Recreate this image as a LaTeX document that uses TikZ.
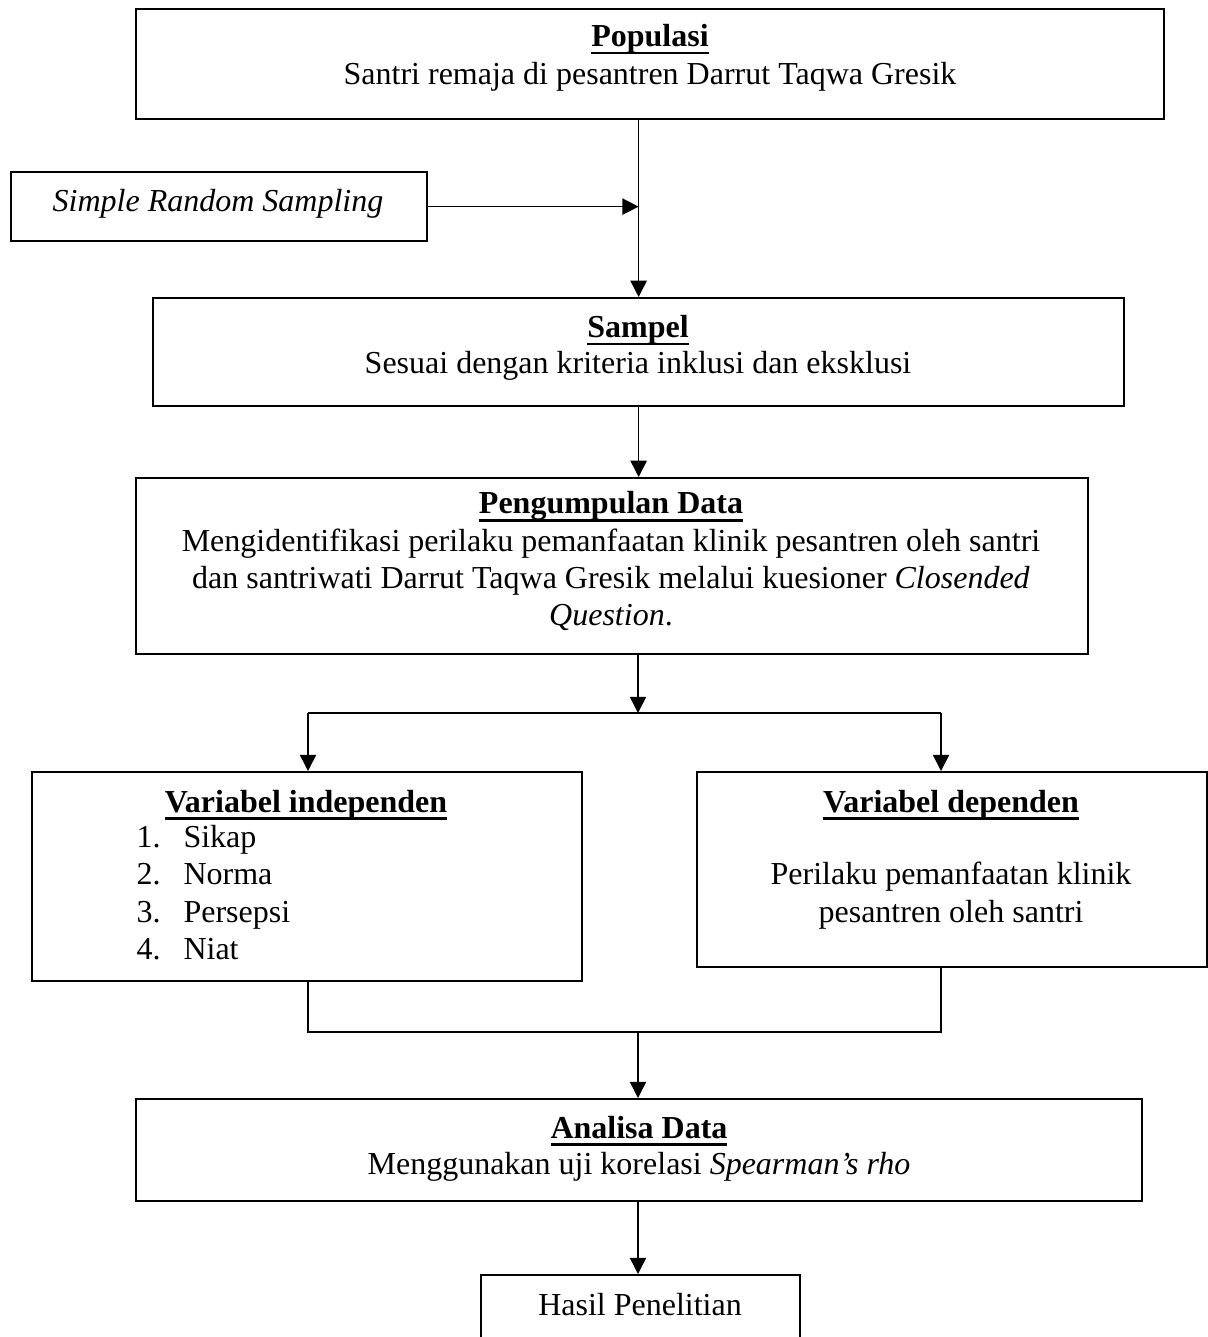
\documentclass[tikz,border=0pt]{standalone}
\usepackage{fontspec}
\setmainfont{Liberation Serif}
\usetikzlibrary{arrows.meta}
\newcommand{\ttl}[1]{\setbox0=\hbox{\bfseries #1}\rlap{\rule[-3pt]{\wd0}{1pt}}\box0}
\newcommand{\boxnode}[5]{\node[box, minimum width={(#4-#2)*0.4pt}, minimum height={(#5-#3)*0.4pt}] (#1) at (#2,#3) {};}
\begin{document}
\begin{tikzpicture}[x=0.4pt,y=-0.4pt,
  font=\fontsize{12.8pt}{15pt}\selectfont,
  box/.style={draw, line width=0.9pt, inner sep=0pt, anchor=north west},
  txt/.style={anchor=base, inner sep=0pt},
  txtl/.style={anchor=base west, inner sep=0pt},
  conn/.style={line width=0.6pt},
  arr/.style={line width=0.6pt, -{Triangle[length=6.5pt,width=6.5pt]}}]
\useasboundingbox (0,0) rectangle (1207,1337);

% boxes
\boxnode{pop}{135}{8}{1163}{118}
\boxnode{srs}{10}{171}{426}{240}
\boxnode{samp}{152}{297}{1123}{405}
\boxnode{peng}{135}{477}{1087}{653}
\boxnode{ind}{31}{771}{581}{980}
\boxnode{dep}{696}{771}{1205.5}{966}
\boxnode{ana}{135}{1098}{1141}{1200}
\boxnode{hasil}{480}{1274}{799}{1360}

% texts
\node[txt] (popT) at (650,47) {\ttl{Populasi}};
\node[txt] (popL) at (650,85) {Santri remaja di pesantren Darrut Taqwa Gresik};
\node[txt] (srsT) at (218,212) {\itshape Simple Random Sampling};
\node[txt] (sampT) at (638,338) {\ttl{Sampel}};
\node[txt] (sampL) at (638,374) {Sesuai dengan kriteria inklusi dan eksklusi};
\node[txt] (pengT) at (611,514) {\ttl{Pengumpulan Data}};
\node[txt] (pengA) at (611,551) {Mengidentifikasi perilaku pemanfaatan klinik pesantren oleh santri};
\node[txt] (pengB) at (611,588) {dan santriwati Darrut Taqwa Gresik melalui kuesioner \textit{Closended}};
\node[txt] (pengC) at (611,625) {\textit{Question}.};
\node[txt] (indT) at (306,812) {\ttl{Variabel independen}};
\node[txtl] (n1) at (136,847) {1.};
\node[txtl] (i1) at (183,847) {Sikap};
\node[txtl] (n2) at (136,884) {2.};
\node[txtl] (i2) at (183,884) {Norma};
\node[txtl] (n3) at (136,922) {3.};
\node[txtl] (i3) at (183,922) {Persepsi};
\node[txtl] (n4) at (136,959) {4.};
\node[txtl] (i4) at (183,959) {Niat};
\node[txt] (depT) at (951,812) {\ttl{Variabel dependen}};
\node[txt] (depA) at (951,884) {Perilaku pemanfaatan klinik};
\node[txt] (depB) at (951,922) {pesantren oleh santri};
\node[txt] (anaT) at (639,1138) {\ttl{Analisa Data}};
\node[txt] (anaL) at (639,1174) {Menggunakan uji korelasi \textit{Spearman’s rho}};
\node[txt] (hasilT) at (640,1315) {Hasil Penelitian};

% junctions
\coordinate (split) at (638,713);
\coordinate (splitL) at (308,713);
\coordinate (splitR) at (941,713);
\coordinate (merge) at (638,1032);
\coordinate (mergeL) at (308,1032);
\coordinate (mergeR) at (941,1032);

% connectors
\draw[arr] (samp.north |- pop.south) -- (samp.north);
\draw[arr] (srs.east) -- (srs.east -| samp.north);
\draw[arr] (samp.south) -- (samp.south |- peng.north);
\draw[arr] (peng.south -| split) -- (split);
\draw[conn] (splitL) -- (splitR);
\draw[arr] (splitL) -- (splitL |- ind.north);
\draw[arr] (splitR) -- (splitR |- dep.north);
\draw[conn] (ind.south -| mergeL) -- (mergeL) -- (mergeR) -- (dep.south -| mergeR);
\draw[arr] (merge) -- (merge |- ana.north);
\draw[arr] (ana.south -| merge) -- (merge |- hasil.north);
\end{tikzpicture}
\end{document}
